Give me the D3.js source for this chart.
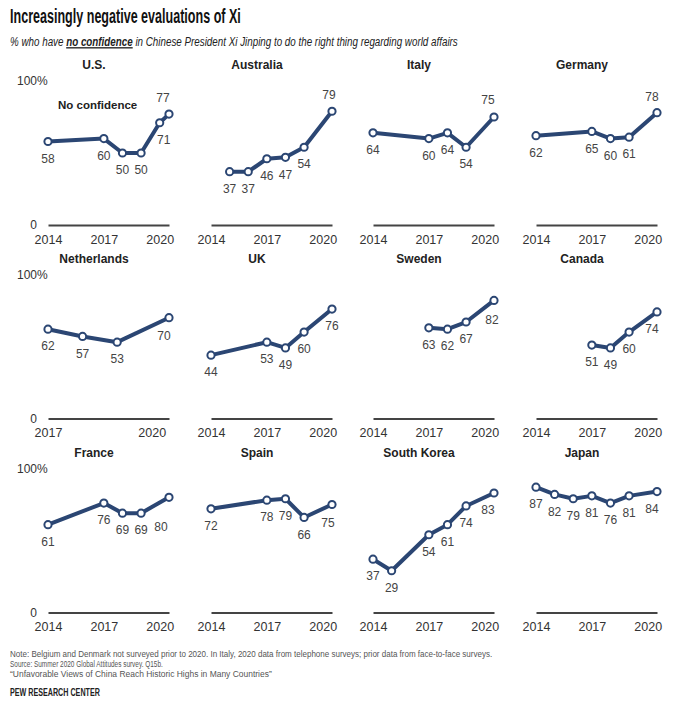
<!DOCTYPE html>
<html>
<head>
<meta charset="utf-8">
<script src="https://cdn.jsdelivr.net/npm/d3@7"></script>
<style>
  html, body { margin: 0; padding: 0; background: #fff; }
  svg { display: block; }
  text { font-family: "Liberation Sans", Arial, sans-serif; }
</style>
</head>
<body>
<svg id="chart" width="678" height="710"></svg>
<script>
// ---------------- DATA ----------------
const countries = ["U.S.", "Australia", "Italy", "Germany",
                   "Netherlands", "UK", "Sweden", "Canada",
                   "France", "Spain", "South Korea", "Japan"];
// survey time points (2020.5 = summer 2020 survey; U.S. 2020 = spring 2020)
const surveyYears = [
  [2014, 2017, 2018, 2019, 2020, 2020.5],
  [2015, 2016, 2017, 2018, 2019, 2020.5],
  [2014, 2017, 2018, 2019, 2020.5],
  [2014, 2017, 2018, 2019, 2020.5],
  [2017, 2018, 2019, 2020.5],
  [2014, 2017, 2018, 2019, 2020.5],
  [2017, 2018, 2019, 2020.5],
  [2017, 2018, 2019, 2020.5],
  [2014, 2017, 2018, 2019, 2020.5],
  [2014, 2017, 2018, 2019, 2020.5],
  [2014, 2015, 2017, 2018, 2019, 2020.5],
  [2014, 2015, 2016, 2017, 2018, 2019, 2020.5]
];
const noConfidence = [
  [58, 60, 50, 50, 71, 77],
  [37, 37, 46, 47, 54, 79],
  [64, 60, 64, 54, 75],
  [62, 65, 60, 61, 78],
  [62, 57, 53, 70],
  [44, 53, 49, 60, 76],
  [63, 62, 67, 82],
  [51, 49, 60, 74],
  [61, 76, 69, 69, 80],
  [72, 78, 79, 66, 75],
  [37, 29, 54, 61, 74, 83],
  [87, 82, 79, 81, 76, 81, 84]
];
const xStart = [2014, 2014, 2014, 2014, 2017, 2014, 2014, 2014, 2014, 2014, 2014, 2014];
const tickYears = [[2014, 2017, 2020], [2017, 2020]];
const yTickLabels = ["0", "100%"];
const legendLabel = "No confidence";

// ---------------- LAYOUT ----------------
const colX = [48, 211, 373, 536];
const panelW = 121;
const rowZero = [225, 418.5, 612.5];
const panelH = 144;
const navy = "#2b4673";

// label annotation layout: [dx, dy of label centre relative to point]
const defaultLabel = [0, 17];
const labelTweaks = {
  "U.S.":        {4: [4, 17], 5: [-6, -16]},
  "Australia":   {5: [-3, -16]},
  "Italy":       {4: [-6, -17]},
  "Germany":     {4: [-5, -16]},
  "Netherlands": {3: [-5, 18]},
  "UK":          {},
  "Sweden":      {3: [-2, 19]},
  "Canada":      {3: [-5, 17]},
  "France":      {4: [-8, 29]},
  "Spain":       {4: [-4, 18]},
  "South Korea": {5: [-6, 17]},
  "Japan":       {6: [-5, 17]}
};

const svg = d3.select("#chart");

// horizontal fit helper
function fitWidth(sel, x, y, width) {
  const w = sel.node().getComputedTextLength();
  const s = width / w;
  sel.attr("x", 0).attr("y", 0)
     .attr("transform", `translate(${x},${y}) scale(${s},1)`);
}

// ---------------- HEADER ----------------
const title = svg.append("text")
  .attr("font-family", "'Liberation Sans Narrow', 'DejaVu Sans Condensed', 'Liberation Sans', sans-serif")
  .attr("font-weight", "bold").attr("font-size", 20).attr("fill", "#111")
  .text("Increasingly negative evaluations of Xi");
fitWidth(title, 10, 23, 231);

const sub = svg.append("text")
  .attr("font-family", "'Liberation Serif', 'DejaVu Serif', serif")
  .attr("font-style", "italic").attr("font-size", 13.5).attr("fill", "#222");
sub.append("tspan").text("% who have ");
sub.append("tspan").attr("font-weight", "bold").attr("text-decoration", "underline").text("no confidence");
sub.append("tspan").text(" in Chinese President Xi Jinping to do the right thing regarding world affairs");
fitWidth(sub, 10, 46, 448);

// ---------------- PANELS ----------------
countries.forEach((name, i) => {
  const col = i % 4, row = Math.floor(i / 4);
  const x0 = colX[col], zero = rowZero[row];
  const x = d3.scaleLinear().domain([xStart[i], 2020.5]).range([x0, x0 + panelW]);
  const y = d3.scaleLinear().domain([0, 100]).range([zero, zero - panelH]);
  const g = svg.append("g");

  // title
  g.append("text")
    .attr("x", x0 + 46).attr("y", zero - 156)
    .attr("text-anchor", "middle").attr("font-weight", "bold")
    .attr("font-size", 12).attr("fill", "#222")
    .text(name);

  // x axis
  const ticks = xStart[i] === 2017 ? tickYears[1] : tickYears[0];
  const ax = g.append("g")
    .attr("transform", `translate(0,${zero})`)
    .call(d3.axisBottom(x).tickValues(ticks).tickFormat(d3.format("d"))
          .tickSize(0).tickPadding(10).tickSizeOuter(0));
  ax.select(".domain").attr("stroke", "#444").attr("stroke-width", 2);
  ax.selectAll(".tick text").attr("font-size", 12.5).attr("fill", "#333")
    .attr("font-family", "'Liberation Sans', Arial, sans-serif");

  // y labels (first column)
  if (col === 0) {
    g.append("text").attr("x", x0 - 11).attr("y", y(0)).attr("dy", "0.35em")
      .attr("text-anchor", "end").attr("font-size", 12).attr("fill", "#333")
      .text(yTickLabels[0]);
    g.append("text").attr("x", x0 - 31).attr("y", y(100)).attr("dy", "0.35em")
      .attr("text-anchor", "start").attr("font-size", 12).attr("fill", "#333")
      .text(yTickLabels[1]);
  }

  const pts = surveyYears[i].map((yr, k) => ({yr, v: noConfidence[i][k], k}));

  // line
  g.append("path").datum(pts)
    .attr("fill", "none").attr("stroke", navy).attr("stroke-width", 4)
    .attr("stroke-linejoin", "round")
    .attr("d", d3.line().x(d => x(d.yr)).y(d => y(d.v)));

  // markers
  g.selectAll("circle").data(pts).join("circle")
    .attr("cx", d => x(d.yr)).attr("cy", d => y(d.v)).attr("r", 3.6)
    .attr("fill", "#fff").attr("stroke", navy).attr("stroke-width", 2);

  // value labels
  g.selectAll("text.val").data(pts).join("text").attr("class", "val")
    .attr("x", d => x(d.yr) + (labelTweaks[name][d.k] || defaultLabel)[0])
    .attr("y", d => y(d.v) + (labelTweaks[name][d.k] || defaultLabel)[1])
    .attr("dy", "0.35em").attr("text-anchor", "middle")
    .attr("font-size", 12).attr("fill", "#444")
    .text(d => d.v);

  if (i === 0) {
    g.append("text").attr("x", 58).attr("y", 109)
      .attr("font-weight", "bold").attr("font-size", 11.5).attr("fill", "#222")
      .text(legendLabel);
  }
});

// ---------------- FOOTER ----------------
const foot = [
  ["Note: Belgium and Denmark not surveyed prior to 2020. In Italy, 2020 data from telephone surveys; prior data from face-to-face surveys.", 656.5, 483],
  ["Source: Summer 2020 Global Attitudes survey. Q15b.", 666.5, 153],
  ["\u201CUnfavorable Views of China Reach Historic Highs in Many Countries\u201D", 676.5, 262]
];
foot.forEach(([t, yy, w]) => {
  const s = svg.append("text").attr("font-size", 8.8).attr("fill", "#555").text(t);
  fitWidth(s, 10, yy, w);
});
const pew = svg.append("text").attr("font-size", 10).attr("font-weight", "bold")
  .attr("fill", "#222").text("PEW RESEARCH CENTER");
fitWidth(pew, 10, 696, 90);
</script>
</body>
</html>
